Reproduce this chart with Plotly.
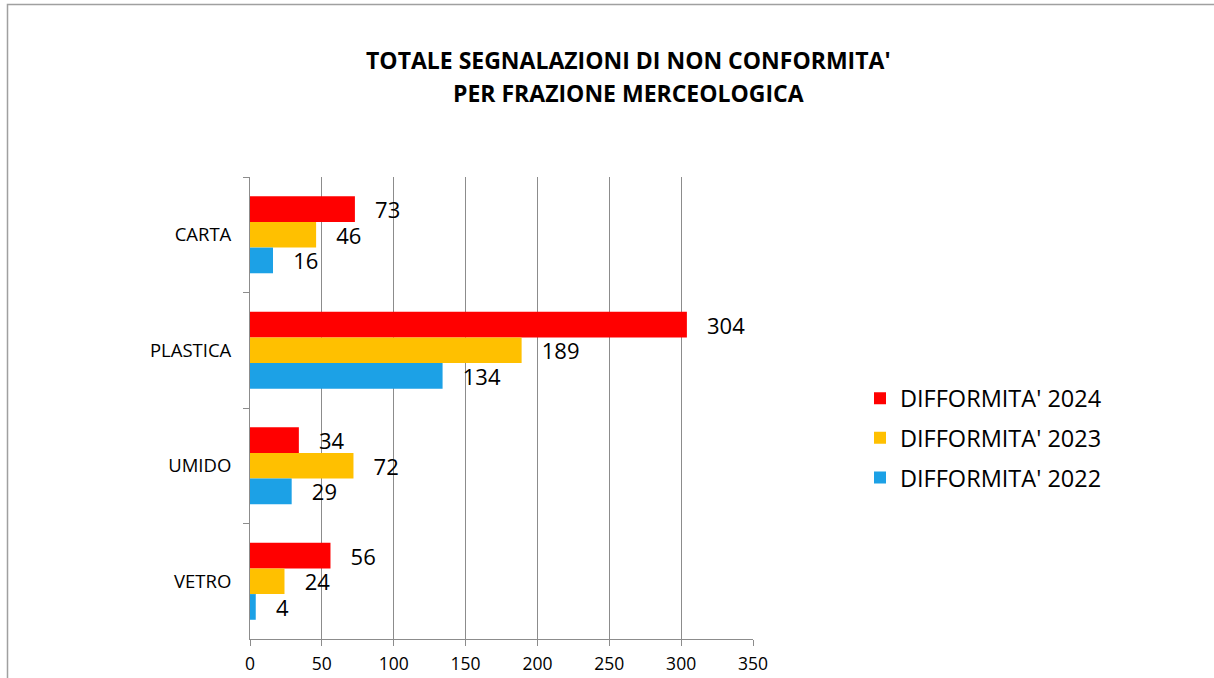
import plotly.graph_objects as go

categories = ["CARTA", "PLASTICA", "UMIDO", "VETRO"]
series_names = ["DIFFORMITA' 2024", "DIFFORMITA' 2023", "DIFFORMITA' 2022"]
values_2024 = [73, 304, 34, 56]
values_2023 = [46, 189, 72, 24]
values_2022 = [16, 134, 29, 4]
colors = ["#FF0000", "#FFC000", "#1CA1E6"]
x_ticks = [0, 50, 100, 150, 200, 250, 300, 350]
title_lines = ["TOTALE SEGNALAZIONI DI NON CONFORMITA'", "PER FRAZIONE MERCEOLOGICA"]

FONT = "Open Sans"
W, H = 1214, 678
L, R, T, B = 250, 753, 177, 639

def px_x(p):
    return (p - L) / (R - L)

def px_y(p):
    return (B - p) / (B - T)

fig = go.Figure()
for name, vals, col, grp in zip(series_names, [values_2024, values_2023, values_2022], colors, ["a", "b", "c"]):
    fig.add_trace(go.Bar(
        y=categories, x=vals, name=name, orientation="h",
        marker=dict(color=col, line=dict(width=0)),
        text=vals, texttemplate="\u00a0\u00a0\u00a0%{x}", textposition="outside",
        constraintext="none",
        textfont=dict(family=FONT, size=22, color="#000000"),
        cliponaxis=False, legendgroup=grp,
    ))

fig.update_layout(
    width=W, height=H,
    margin=dict(l=L, r=W - R, t=T, b=H - B, autoexpand=False),
    paper_bgcolor="white", plot_bgcolor="white",
    barmode="group", bargap=0.333, bargroupgap=0,
    font=dict(family=FONT, color="#000000"),
    showlegend=True,
    legend=dict(
        x=px_x(860), y=px_y(438), xanchor="left", yanchor="middle",
        font=dict(family=FONT, size=23.5, color="#000000"),
        traceorder="grouped", tracegroupgap=6,
        bgcolor="rgba(0,0,0,0)",
    ),
    xaxis=dict(
        range=[0, 350], tickvals=x_ticks, ticktext=[str(v) for v in x_ticks],
        showgrid=True, gridcolor="#8C8C8C", gridwidth=1,
        showline=True, linecolor="#8C8C8C", linewidth=1,
        ticks="outside", ticklen=6, tickcolor="#8C8C8C",
        tickfont=dict(family=FONT, size=17.5, color="#000000"),
        ticklabelstandoff=3,
        zeroline=False, fixedrange=True,
    ),
    yaxis=dict(
        autorange="reversed", type="category",
        showgrid=False, showline=True, linecolor="#8C8C8C", linewidth=1,
        ticks="outside", ticklen=6, tickcolor="#8C8C8C", tickson="boundaries",
        tickfont=dict(family=FONT, size=18.5, color="#000000"),
        ticklabelstandoff=14,
    ),
)

# Title as two lines
for line, ypx in zip(title_lines, [60, 93]):
    fig.add_annotation(
        text="<b>" + line + "</b>", xref="paper", yref="paper",
        x=px_x(628), y=px_y(ypx), xanchor="center", yanchor="middle",
        showarrow=False, font=dict(family=FONT, size=23, color="#000000"),
    )

# Outer chart border
fig.add_shape(
    type="rect", xref="paper", yref="paper",
    x0=px_x(7.5), x1=px_x(1230), y0=px_y(700), y1=px_y(4.5),
    line=dict(color="#A0A0A0", width=1.5), fillcolor="rgba(0,0,0,0)", layer="below",
)

fig.write_html(
    "out.html",
    config={"displayModeBar": False},
    post_script="document.body.style.margin='0';document.body.style.overflow='hidden';",
)
